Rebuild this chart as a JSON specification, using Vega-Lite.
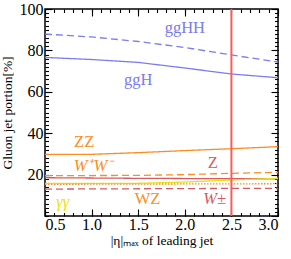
{
  "$schema": "https://vega.github.io/schema/vega-lite/v6.json",
  "width": 233,
  "height": 207,
  "autosize": {"type": "none"},
  "padding": {"left": 45, "top": 9, "right": 13, "bottom": 43},
  "background": "white",
  "config": {
    "view": {"stroke": "black", "strokeWidth": 1.5},
    "font": "Liberation Serif",
    "axis": {
      "grid": false, "domain": false, "tickColor": "black", "tickWidth": 1.1,
      "labelColor": "black", "labelFont": "Liberation Serif", "labelFontSize": 16,
      "titleFont": "Liberation Serif", "titleFontSize": 13.5, "titleFontWeight": "normal", "titleColor": "black"
    }
  },
  "datasets": {
    "curves": [
      {"series": "ggHH", "eta": 0.5, "portion": 87.9},
      {"series": "ggHH", "eta": 1.0, "portion": 86.5},
      {"series": "ggHH", "eta": 1.5, "portion": 84.3},
      {"series": "ggHH", "eta": 2.0, "portion": 81.4},
      {"series": "ggHH", "eta": 2.5, "portion": 77.8},
      {"series": "ggHH", "eta": 3.0, "portion": 74.4},
      {"series": "ggH", "eta": 0.5, "portion": 76.6},
      {"series": "ggH", "eta": 1.0, "portion": 75.6},
      {"series": "ggH", "eta": 1.5, "portion": 74.2},
      {"series": "ggH", "eta": 2.0, "portion": 71.5},
      {"series": "ggH", "eta": 2.5, "portion": 68.6},
      {"series": "ggH", "eta": 3.0, "portion": 66.8},
      {"series": "ZZ", "eta": 0.5, "portion": 29.8},
      {"series": "ZZ", "eta": 1.0, "portion": 29.8},
      {"series": "ZZ", "eta": 1.5, "portion": 30.6},
      {"series": "ZZ", "eta": 2.0, "portion": 31.6},
      {"series": "ZZ", "eta": 2.5, "portion": 32.5},
      {"series": "ZZ", "eta": 3.0, "portion": 33.5},
      {"series": "WW", "eta": 0.5, "portion": 19.5},
      {"series": "WW", "eta": 1.5, "portion": 19.6},
      {"series": "WW", "eta": 2.0, "portion": 20.0},
      {"series": "WW", "eta": 2.5, "portion": 20.6},
      {"series": "WW", "eta": 3.0, "portion": 21.1},
      {"series": "Z", "eta": 0.5, "portion": 18.5},
      {"series": "Z", "eta": 1.5, "portion": 18.2},
      {"series": "Z", "eta": 2.5, "portion": 18.0},
      {"series": "Z", "eta": 3.0, "portion": 18.0},
      {"series": "AA", "eta": 0.5, "portion": 15.8},
      {"series": "AA", "eta": 1.5, "portion": 15.8},
      {"series": "AA", "eta": 2.0, "portion": 16.4},
      {"series": "AA", "eta": 2.5, "portion": 17.4},
      {"series": "AA", "eta": 3.0, "portion": 18.2},
      {"series": "WZ", "eta": 0.5, "portion": 15.3},
      {"series": "WZ", "eta": 3.0, "portion": 15.6},
      {"series": "Wpm", "eta": 0.5, "portion": 13.0},
      {"series": "Wpm", "eta": 3.0, "portion": 13.4}
    ]
  },
  "layer": [
    {
      "data": {"name": "curves"},
      "mark": {"type": "line", "strokeWidth": 1.3},
      "encoding": {
        "x": {"field": "eta", "type": "quantitative",
          "scale": {"domain": [0.5, 3.0], "nice": false, "zero": false},
          "axis": {"orient": "bottom", "values": [0.5, 1.0, 1.5, 2.0, 2.5, 3.0], "format": ".1f",
            "tickSize": -7, "labelPadding": 7, "title": "|η|ₘₐₓ of leading jet", "titlePadding": 1}},
        "y": {"field": "portion", "type": "quantitative",
          "scale": {"domain": [0, 100], "nice": false},
          "axis": {"orient": "left", "values": [20, 40, 60, 80, 100],
            "tickSize": -7, "labelPadding": 9, "title": "Gluon jet portion[%]", "titlePadding": 5}},
        "color": {"field": "series", "type": "nominal", "legend": null,
          "scale": {"domain": ["ggHH", "ggH", "ZZ", "WW", "Z", "AA", "WZ", "Wpm"],
            "range": ["#7b7bf2", "#7b7bf2", "#ff8c1f", "#ff8c1f", "#d65a60", "#e8e010", "#ff8c1f", "#d65a60"]}},
        "strokeDash": {"field": "series", "type": "nominal", "legend": null,
          "scale": {"domain": ["ggHH", "ggH", "ZZ", "WW", "Z", "AA", "WZ", "Wpm"],
            "range": [[7, 4], [1, 0], [1, 0], [7, 4], [1, 0], [1, 0], [1.5, 1.5], [7, 4]]}}
      }
    },
    {
      "data": {"name": "curves"},
      "mark": {"type": "point", "opacity": 0},
      "encoding": {
        "x": {"field": "eta", "type": "quantitative",
          "axis": {"orient": "bottom", "values": [0.5,0.6,0.7,0.8,0.9,1.0,1.1,1.2,1.3,1.4,1.5,1.6,1.7,1.8,1.9,2.0,2.1,2.2,2.3,2.4,2.5,2.6,2.7,2.8,2.9,3.0],
            "tickSize": -3.5, "labels": false, "title": null}},
        "y": {"field": "portion", "type": "quantitative",
          "axis": {"orient": "left", "values": [0,2,4,6,8,10,12,14,16,18,20,22,24,26,28,30,32,34,36,38,40,42,44,46,48,50,52,54,56,58,60,62,64,66,68,70,72,74,76,78,80,82,84,86,88,90,92,94,96,98,100],
            "tickSize": -3.5, "labels": false, "title": null}}
      }
    },
    {
      "data": {"name": "curves"},
      "mark": {"type": "point", "opacity": 0},
      "encoding": {
        "x": {"field": "eta", "type": "quantitative",
          "axis": {"orient": "top", "values": [0.5, 1.0, 1.5, 2.0, 2.5, 3.0], "tickSize": -7, "labels": false, "title": null}},
        "y": {"field": "portion", "type": "quantitative",
          "axis": {"orient": "right", "values": [0, 20, 40, 60, 80, 100], "tickSize": -7, "labels": false, "title": null}}
      }
    },
    {
      "data": {"name": "curves"},
      "mark": {"type": "point", "opacity": 0},
      "encoding": {
        "x": {"field": "eta", "type": "quantitative",
          "axis": {"orient": "top", "values": [0.5,0.6,0.7,0.8,0.9,1.0,1.1,1.2,1.3,1.4,1.5,1.6,1.7,1.8,1.9,2.0,2.1,2.2,2.3,2.4,2.5,2.6,2.7,2.8,2.9,3.0],
            "tickSize": -3.5, "labels": false, "title": null}},
        "y": {"field": "portion", "type": "quantitative",
          "axis": {"orient": "right", "values": [0,2,4,6,8,10,12,14,16,18,20,22,24,26,28,30,32,34,36,38,40,42,44,46,48,50,52,54,56,58,60,62,64,66,68,70,72,74,76,78,80,82,84,86,88,90,92,94,96,98,100],
            "tickSize": -3.5, "labels": false, "title": null}}
      }
    },
    {
      "data": {"values": [{"eta": 2.5}]},
      "mark": {"type": "rule", "color": "#ff5a5a", "strokeWidth": 2},
      "encoding": {
        "x": {"field": "eta", "type": "quantitative", "axis": null}
      }
    },
    {
      "data": {"values": [
        {"series": "ggHH", "text": "ggHH", "eta": 2.0, "portion": 88.5},
        {"series": "ggH", "text": "ggH", "eta": 1.5, "portion": 63.5},
        {"series": "ZZ", "text": "ZZ", "eta": 0.92, "portion": 33.2},
        {"series": "Z", "text": "Z", "eta": 2.3, "portion": 23.0},
        {"series": "WZ", "text": "WZ", "eta": 1.6, "portion": 5.8}
      ]},
      "mark": {"type": "text", "fontSize": 16.5, "font": "Liberation Serif", "baseline": "alphabetic"},
      "encoding": {
        "x": {"field": "eta", "type": "quantitative", "axis": null},
        "y": {"field": "portion", "type": "quantitative", "axis": null},
        "text": {"field": "text"},
        "color": {"field": "series", "type": "nominal", "legend": null}
      }
    },
    {
      "data": {"values": [
        {"series": "WW", "text": "W⁺W⁻", "eta": 1.02, "portion": 21.6},
        {"series": "AA", "text": "γγ", "eta": 0.69, "portion": 4.3},
        {"series": "Wpm", "text": "W±", "eta": 2.32, "portion": 5.6}
      ]},
      "mark": {"type": "text", "fontSize": 16.5, "font": "Liberation Serif", "fontStyle": "italic", "baseline": "alphabetic"},
      "encoding": {
        "x": {"field": "eta", "type": "quantitative", "axis": null},
        "y": {"field": "portion", "type": "quantitative", "axis": null},
        "text": {"field": "text"},
        "color": {"field": "series", "type": "nominal", "legend": null}
      }
    }
  ],
  "resolve": {"axis": {"x": "independent", "y": "independent"}}
}
